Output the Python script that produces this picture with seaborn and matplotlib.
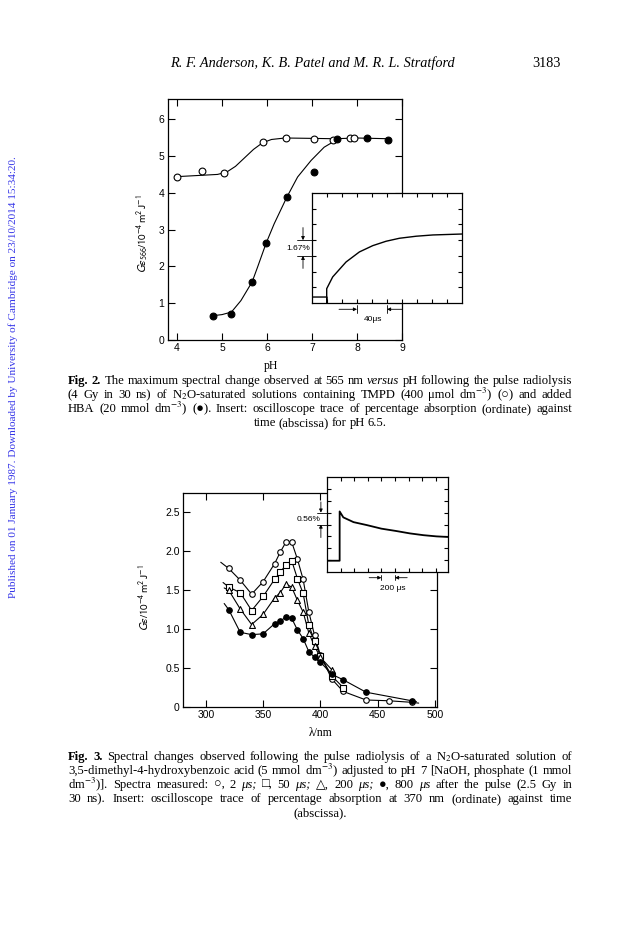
import matplotlib
matplotlib.use('Agg')
import matplotlib.pyplot as plt
import seaborn as sns

sns.set_theme(style='ticks')
plt.rcParams['font.family'] = ['Liberation Serif', 'DejaVu Sans']
plt.rcParams['mathtext.fontset'] = 'stix'
plt.rcParams['text.color'] = 'black'
plt.rcParams['axes.labelcolor'] = 'black'

#FIG 2 DATA (pH, G*eps at 565 nm)
######################################################
ph_open = [4.0, 4.55, 5.05, 5.91, 6.43, 7.05, 7.46, 7.85, 7.94]
ge_open = [4.42, 4.58, 4.53, 5.38, 5.48, 5.46, 5.44, 5.49, 5.49]
ph_filled = [4.79, 5.21, 5.67, 5.98, 6.44, 7.04, 7.56, 8.23, 8.70]
ge_filled = [0.66, 0.72, 1.58, 2.63, 3.88, 4.56, 5.47, 5.50, 5.44]

#hand drawn curves
ph_open_curve = [4.0, 4.3, 4.6, 4.9, 5.1, 5.3, 5.5, 5.7, 5.9, 6.1, 6.4, 7.0, 7.5, 8.0, 8.7]
ge_open_curve = [4.44, 4.46, 4.48, 4.50, 4.56, 4.72, 4.95, 5.18, 5.36, 5.45, 5.49, 5.48, 5.47, 5.49, 5.47]
ph_filled_curve = [4.79, 5.0, 5.21, 5.42, 5.67, 5.79, 5.98, 6.16, 6.44, 6.68, 6.98, 7.27, 7.56]
ge_filled_curve = [0.66, 0.69, 0.76, 1.07, 1.58, 1.98, 2.63, 3.16, 3.88, 4.43, 4.88, 5.24, 5.45]

#insert trace (divisions)
t2_x = [0, 0.98, 0.98, 0.98, 1.38, 2.27, 3.16, 4.05, 4.94, 5.83, 6.95, 8.06, 10]
t2_y = [0.38, 0.38, 0.0, 0.91, 1.66, 2.61, 3.25, 3.65, 3.93, 4.12, 4.25, 4.33, 4.39]

#FIG 3 DATA (wavelength, G*eps)
######################################################
wl_open = [320, 330, 340, 350, 360, 365, 370, 375, 380, 385, 390, 395, 400, 410, 420, 440, 460, 480]
ge3_open = [1.78, 1.63, 1.45, 1.61, 1.84, 1.99, 2.12, 2.12, 1.90, 1.64, 1.22, 0.92, 0.67, 0.36, 0.20, 0.09, 0.08, 0.06]
wl_sq = [320, 330, 340, 350, 360, 365, 370, 375, 380, 385, 390, 395, 400, 410, 420]
ge3_sq = [1.54, 1.47, 1.24, 1.42, 1.64, 1.73, 1.83, 1.88, 1.65, 1.46, 1.05, 0.85, 0.66, 0.40, 0.25]
wl_tri = [320, 330, 340, 350, 360, 365, 370, 375, 380, 385, 390, 395, 400, 410]
ge3_tri = [1.50, 1.26, 1.06, 1.19, 1.40, 1.47, 1.58, 1.54, 1.37, 1.22, 0.95, 0.78, 0.64, 0.48]
wl_filled = [320, 330, 340, 350, 360, 365, 370, 375, 380, 385, 390, 395, 400, 410, 420, 440, 480]
ge3_filled = [1.25, 0.96, 0.93, 0.94, 1.07, 1.10, 1.16, 1.14, 0.99, 0.88, 0.71, 0.64, 0.58, 0.42, 0.35, 0.19, 0.08]

#where the drawn curves start / end beyond the points
line_start = {'open': (313, 1.86), 'sq': (315, 1.60), 'tri': (316, 1.53), 'filled': (316, 1.33)}
line_end = {'open': (486, 0.05), 'filled': (484, 0.07)}

t3_x = [0, 0.93, 0.93, 1.2, 1.95, 2.93, 4.0, 5.1, 6.1, 7.1, 8.05, 8.9]
t3_y = [0.95, 0.95, 5.1, 4.6, 4.2, 3.95, 3.65, 3.45, 3.25, 3.1, 3.0, 2.95]

#FIGURE
######################################################
W, H = 624, 936
fig = plt.figure(figsize=(W / 100, H / 100), dpi=100)
fig.patch.set_facecolor('white')


def fbox(l, t, r, b):
    return [l / W, 1 - b / H, (r - l) / W, (b - t) / H]


def frame(ax, length=4, labels=True):
    for s in ax.spines.values():
        s.set_linewidth(0.9)
        s.set_color('black')
    ax.tick_params(which='both', direction='in', top=True, right=True, length=length,
                   width=0.8, colors='black', labelsize=7.5, pad=2.5,
                   labelfontfamily='Liberation Sans',
                   labelbottom=labels, labelleft=labels)
    ax.set_facecolor('white')


def arrow(ax, x0, y0, x1, y1):
    ax.annotate('', xy=(x1, y1), xytext=(x0, y0),
                arrowprops=dict(arrowstyle='-|>', color='black', lw=0.6, mutation_scale=5,
                                shrinkA=0, shrinkB=0), annotation_clip=False)


def dots(ax, x, y, marker, face, s):
    sns.scatterplot(x=x, y=y, marker=marker, s=s, color=face, edgecolor='black',
                    linewidth=0.8, ax=ax, zorder=3, legend=False)


def curve(ax, x, y, lw=0.8):
    sns.lineplot(x=x, y=y, color='black', lw=lw, ax=ax, sort=False, estimator=None, zorder=2)


#Fig 2 main
ax2 = fig.add_axes(fbox(168, 99, 402, 340))
curve(ax2, ph_open_curve, ge_open_curve)
curve(ax2, ph_filled_curve, ge_filled_curve)
dots(ax2, ph_open, ge_open, 'o', 'white', 24)
dots(ax2, ph_filled, ge_filled, 'o', 'black', 24)
ax2.set_xlim(3.8, 9.0)
ax2.set_ylim(0, 6.55)
ax2.set_xticks([4, 5, 6, 7, 8, 9])
ax2.set_yticks([0, 1, 2, 3, 4, 5, 6])
frame(ax2, length=5)
ax2.set_xlabel('pH', fontsize=8.5)
ax2.xaxis.set_label_coords(0.44, -0.085)
ax2.set_ylabel(r'$G\varepsilon_{566}/10^{-4}\,\mathrm{m}^{2}\,\mathrm{J}^{-1}$', fontsize=8,
               math_fontfamily='stixsans')
ax2.yaxis.set_label_coords(-0.075, 0.44)

#Fig 2 insert
ins2 = fig.add_axes(fbox(312, 193, 462, 303))
curve(ins2, t2_x, t2_y, lw=1.0)
ins2.set_xlim(0, 10)
ins2.set_ylim(0, 7)
ins2.set_xticks(range(1, 10))
ins2.set_yticks(range(1, 7))
frame(ins2, length=3, labels=False)
ins2.set_xlabel('')
ins2.set_ylabel('')
for yy in (3, 4):
    ins2.plot([-1.0, 0], [yy, yy], color='black', lw=0.6, clip_on=False)
arrow(ins2, -0.6, 4.8, -0.6, 4.0)
arrow(ins2, -0.6, 2.2, -0.6, 3.0)
ins2.text(-0.15, 3.45, '1.67%', ha='right', va='center', fontsize=6,
          family='Liberation Sans')
for xx in (3, 5):
    ins2.plot([xx, xx], [-0.13, -0.64], color='black', lw=0.6, clip_on=False)
arrow(ins2, 1.8, -0.4, 3.0, -0.4)
arrow(ins2, 6.0, -0.4, 5.0, -0.4)
ins2.text(4.1, -1.05, '40μs', ha='center', va='center', fontsize=6, family='Liberation Sans')

#Fig 3 main
ax3 = fig.add_axes(fbox(183, 493, 437, 707))
series = [('open', wl_open, ge3_open, 'o', 'white'),
          ('sq', wl_sq, ge3_sq, 's', 'white'),
          ('tri', wl_tri, ge3_tri, '^', 'white'),
          ('filled', wl_filled, ge3_filled, 'o', 'black')]
for key, x, y, m, face in series:
    lx = [line_start[key][0]] + x
    ly = [line_start[key][1]] + y
    if key in line_end:
        lx = lx + [line_end[key][0]]
        ly = ly + [line_end[key][1]]
    curve(ax3, lx, ly)
for key, x, y, m, face in series:
    dots(ax3, x, y, m, face, 16 if m != '^' else 18)
ax3.set_xlim(280, 502)
ax3.set_ylim(0, 2.75)
ax3.set_xticks([300, 350, 400, 450, 500])
ax3.set_yticks([0, 0.5, 1.0, 1.5, 2.0, 2.5])
ax3.set_yticklabels(['0', '0.5', '1.0', '1.5', '2.0', '2.5'])
frame(ax3, length=5)
ax3.set_xlabel('λ/nm', fontsize=8.5)
ax3.xaxis.set_label_coords(0.54, -0.095)
ax3.set_ylabel(r'$G\varepsilon/10^{-4}\,\mathrm{m}^{2}\,\mathrm{J}^{-1}$', fontsize=8,
               math_fontfamily='stixsans')
ax3.yaxis.set_label_coords(-0.125, 0.51)

#Fig 3 insert
ins3 = fig.add_axes(fbox(327, 477, 448, 572))
curve(ins3, t3_x, t3_y, lw=1.3)
ins3.set_xlim(0, 8.9)
ins3.set_ylim(0, 8)
ins3.set_xticks(range(1, 9))
ins3.set_yticks(range(1, 8))
frame(ins3, length=3, labels=False)
ins3.set_xlabel('')
ins3.set_ylabel('')
for yy in (4, 5):
    ins3.plot([-0.75, 0], [yy, yy], color='black', lw=0.6, clip_on=False)
arrow(ins3, -0.45, 5.9, -0.45, 5.0)
arrow(ins3, -0.45, 2.9, -0.45, 4.0)
ins3.text(-0.5, 4.45, '0.56%', ha='right', va='center', fontsize=6,
          family='Liberation Sans')
for xx in (4, 5):
    ins3.plot([xx, xx], [-0.28, -0.7], color='black', lw=0.6, clip_on=False)
arrow(ins3, 3.1, -0.48, 4.0, -0.48)
arrow(ins3, 5.9, -0.48, 5.0, -0.48)
ins3.text(4.8, -1.35, '200 μs', ha='center', va='center', fontsize=6, family='Liberation Sans')

#TEXT
######################################################
fig.text(170 / W, 1 - 67 / H, 'R. F. Anderson, K. B. Patel and M. R. L. Stratford',
         fontsize=10.3, fontstyle='italic', ha='left', va='baseline', family='Liberation Serif')
fig.text(561 / W, 1 - 67 / H, '3183', fontsize=10.3, ha='right', va='baseline',
         family='Liberation Serif')

fig.text(13 / W, 1 - 377 / H,
         'Published on 01 January 1987. Downloaded by University of Cambridge on 23/10/2014 15:34:20.',
         rotation=90, color='#3434e8', fontsize=8.1, ha='center', va='center',
         family='Liberation Serif')

cap_fs = 9.1
renderer = fig.canvas.get_renderer()
symbols = set('○●□△')


def put_line(line, y_px, x0=68, x1=572, center=False):
    objs = []
    for tok in line.split(' '):
        weight, style = 'normal', 'normal'
        if tok.startswith('**'):
            tok, weight = tok[2:], 'bold'
        elif tok.startswith('*'):
            tok, style = tok[1:], 'italic'
        fam = ['Liberation Serif', 'DejaVu Sans'] if symbols & set(tok) else 'Liberation Serif'
        objs.append(fig.text(0, 1 - y_px / H, tok, fontsize=cap_fs, fontweight=weight,
                             fontstyle=style, ha='left', va='baseline', family=fam))
    widths = [t.get_window_extent(renderer).width for t in objs]
    if center:
        gap = 2.8
        x = (x0 + x1) / 2 - (sum(widths) + gap * (len(objs) - 1)) / 2
    else:
        gap = (x1 - x0 - sum(widths)) / (len(objs) - 1)
        x = x0
    for t, w in zip(objs, widths):
        t.set_x(x / W)
        x += w + gap


cap2 = ['**Fig. **2. The maximum spectral change observed at 565 nm *versus pH following the pulse radiolysis',
        '(4 Gy in 30 ns) of N$_2$O-saturated solutions containing TMPD (400 μmol dm$^{-3}$) (○) and added',
        'HBA (20 mmol dm$^{-3}$) (●). Insert: oscilloscope trace of percentage absorption (ordinate) against',
        'time (abscissa) for pH 6.5.']
cap3 = ['**Fig. **3. Spectral changes observed following the pulse radiolysis of a N$_2$O-saturated solution of',
        '3,5-dimethyl-4-hydroxybenzoic acid (5 mmol dm$^{-3}$) adjusted to pH 7 [NaOH, phosphate (1 mmol',
        'dm$^{-3}$)]. Spectra measured: ○, 2 *μs; □, 50 *μs; △, 200 *μs; ●, 800 *μs after the pulse (2.5 Gy in',
        '30 ns). Insert: oscilloscope trace of percentage absorption at 370 nm (ordinate) against time',
        '(abscissa).']
for i, line in enumerate(cap2):
    put_line(line, 384 + 14 * i, center=(i == len(cap2) - 1))
for i, line in enumerate(cap3):
    put_line(line, 760 + 14 * i, center=(i == len(cap3) - 1))

fig.savefig('out.png', dpi=100, facecolor='white')
